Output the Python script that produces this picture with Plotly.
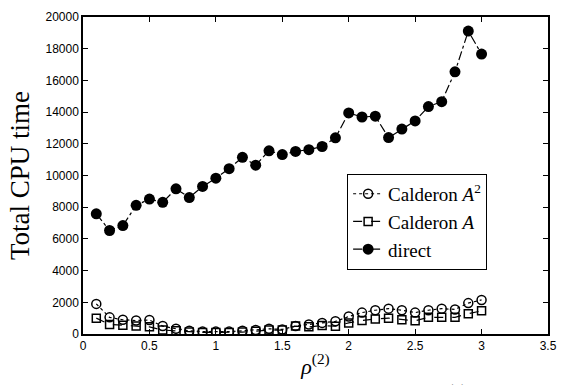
import plotly.graph_objects as go

rho = [0.1, 0.2, 0.3, 0.4, 0.5, 0.6, 0.7, 0.8, 0.9, 1.0,
       1.1, 1.2, 1.3, 1.4, 1.5, 1.6, 1.7, 1.8, 1.9, 2.0,
       2.1, 2.2, 2.3, 2.4, 2.5, 2.6, 2.7, 2.8, 2.9, 3.0]

calderon_a2 = [1900, 1050, 900, 850, 880, 500, 330, 200, 150, 150,
               150, 200, 250, 330, 290, 500, 600, 700, 800, 1100,
               1350, 1500, 1600, 1500, 1350, 1500, 1600, 1550, 1950, 2150]

calderon_a = [1000, 600, 550, 500, 450, 250, 200, 120, 100, 100,
              100, 120, 180, 250, 250, 500, 450, 530, 490, 700,
              850, 950, 1000, 900, 830, 1050, 1050, 1050, 1280, 1460]

direct = [7580, 6530, 6840, 8120, 8510, 8310, 9160, 8610, 9310, 9830,
          10430, 11150, 10650, 11560, 11320, 11520, 11630, 11830, 12380, 13950,
          13690, 13740, 12390, 12930, 13440, 14350, 14660, 16540, 19110, 17660]

x_ticks = [0, 0.5, 1, 1.5, 2, 2.5, 3, 3.5]
x_tick_labels = ["0", "0.5", "1", "1.5", "2", "2.5", "3", "3.5"]
y_ticks = [0, 2000, 4000, 6000, 8000, 10000, 12000, 14000, 16000, 18000, 20000]

fig = go.Figure()
fig.add_trace(go.Scatter(
    x=rho, y=calderon_a2, mode="lines+markers",
    name="Calderon <i>A</i><sup>2</sup>",
    line=dict(color="black", width=1.2, dash="dot"),
    marker=dict(symbol="circle-open", size=9, color="black", line=dict(width=1.5, color="black")),
))
fig.add_trace(go.Scatter(
    x=rho, y=calderon_a, mode="lines+markers",
    name="Calderon <i>A</i>",
    line=dict(color="black", width=1.2, dash="dash"),
    marker=dict(symbol="square-open", size=8, color="black", line=dict(width=1.5, color="black")),
))
fig.add_trace(go.Scatter(
    x=rho, y=direct, mode="lines+markers",
    name="direct",
    line=dict(color="black", width=1.2, dash="dashdot"),
    marker=dict(symbol="circle", size=11, color="black"),
))

axis_common = dict(
    showline=True, linecolor="black", linewidth=1.5, mirror="ticks",
    ticks="inside", ticklen=5, tickwidth=1, tickcolor="black",
    showgrid=False, zeroline=False,
    tickfont=dict(family="Liberation Sans, Arial", size=12, color="black"),
)

fig.update_layout(
    width=574, height=385,
    margin=dict(l=83, r=26, t=10, b=47),
    paper_bgcolor="white", plot_bgcolor="white",
    showlegend=True,
    legend=dict(
        x=0.568, y=0.505, xanchor="left", yanchor="top",
        bordercolor="black", borderwidth=1, bgcolor="white",
        font=dict(family="Liberation Serif, Times New Roman, serif", size=19, color="black"),
        itemwidth=30, tracegroupgap=0,
    ),
    xaxis=dict(range=[0, 3.5], tickvals=x_ticks, ticktext=x_tick_labels,
               title=dict(text="<i>ρ</i><sup>(2)</sup>", standoff=6,
                          font=dict(family="Liberation Serif, Times New Roman, serif", size=22, color="black")),
               **axis_common),
    yaxis=dict(range=[0, 20000], tickvals=y_ticks, tickformat="d",
               title=dict(text="Total CPU time", standoff=8,
                          font=dict(family="Liberation Serif, Times New Roman, serif", size=27, color="black")),
               **axis_common),
)

fig.add_annotation(
    text="(2)", xref="paper", yref="paper", x=0.805, y=-0.145,
    xanchor="center", yanchor="top", showarrow=False,
    font=dict(family="Liberation Serif, Times New Roman, serif", size=16, color="black"),
)

fig.write_html("out.html")
